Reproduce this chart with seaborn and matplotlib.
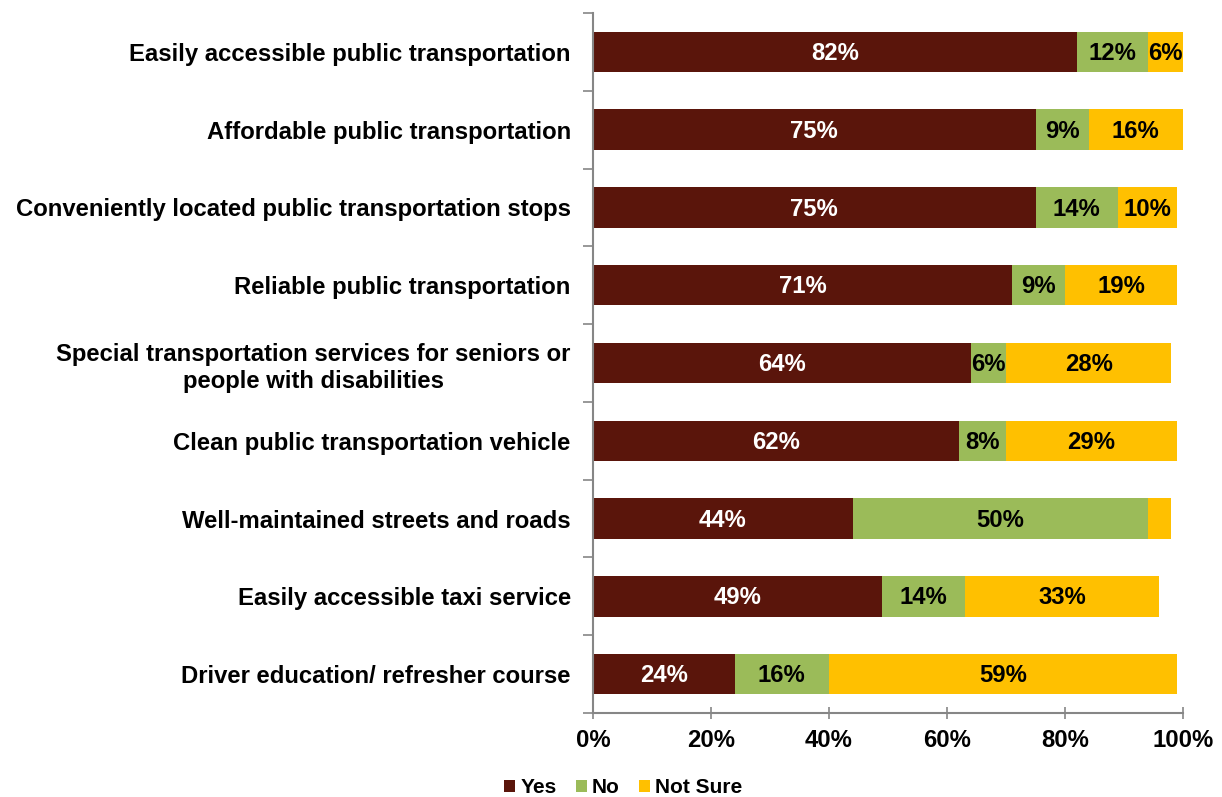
import matplotlib
matplotlib.use("Agg")
import matplotlib.pyplot as plt
from matplotlib.patches import Patch
from matplotlib.ticker import FixedLocator, FuncFormatter
import numpy as np
import pandas as pd
import seaborn as sns

categories = [
    "Easily accessible public transportation",
    "Affordable public transportation",
    "Conveniently located public transportation stops",
    "Reliable public transportation",
    "Special transportation services for seniors or\npeople with disabilities",
    "Clean public transportation vehicle",
    "Well-maintained streets and roads",
    "Easily accessible taxi service",
    "Driver education/ refresher course",
]
yes = [82, 75, 75, 71, 64, 62, 44, 49, 24]
no = [12, 9, 14, 9, 6, 8, 50, 14, 16]
not_sure = [6, 16, 10, 19, 28, 29, 4, 33, 59]
# Segments too narrow to carry a readable label
hide_labels = {("Not Sure", 6)}

series_names = ["Yes", "No", "Not Sure"]
colors = {"Yes": "#5A150B", "No": "#9BBB59", "Not Sure": "#FFC000"}
text_colors = {"Yes": "white", "No": "black", "Not Sure": "black"}

sns.set_theme(style="white")
plt.rcParams["font.family"] = ["Liberation Sans", "DejaVu Sans"]
plt.rcParams["font.weight"] = "bold"
plt.rcParams["text.color"] = "black"
plt.rcParams["xtick.color"] = "black"
plt.rcParams["ytick.color"] = "black"

FS = 17.2

df = pd.DataFrame({"category": categories, "Yes": yes, "No": no, "Not Sure": not_sure})
df["cum_yes"] = df["Yes"]
df["cum_no"] = df["Yes"] + df["No"]
df["cum_ns"] = df["cum_no"] + df["Not Sure"]

fig = plt.figure(figsize=(12.22, 7.97), dpi=100)
ax = fig.add_axes([593 / 1222, 1 - 713 / 797, (1183 - 593) / 1222, (713 - 13) / 797])

# Stacked bars: draw cumulative totals from the outermost segment inward
for name, col in [("Not Sure", "cum_ns"), ("No", "cum_no"), ("Yes", "cum_yes")]:
    sns.barplot(data=df, x=col, y="category", orient="h", color=colors[name],
                width=0.52, saturation=1, ax=ax, linewidth=0)

starts = {"Yes": np.zeros(len(df)), "No": df["cum_yes"].values, "Not Sure": df["cum_no"].values}
for name in series_names:
    vals = df[name].values
    for i, v in enumerate(vals):
        if (name, i) in hide_labels:
            continue
        ax.text(starts[name][i] + v / 2, i + 0.02, f"{v}%", ha="center", va="center",
                color=text_colors[name], fontsize=FS, fontweight="bold")

ax.set_xlim(0, 100)
ax.set_ylim(len(categories) - 0.5, -0.5)
ax.set_xlabel("")
ax.set_ylabel("")

ax.xaxis.set_major_locator(FixedLocator([0, 20, 40, 60, 80, 100]))
ax.xaxis.set_major_formatter(FuncFormatter(lambda v, p: f"{v:.0f}%"))
ax.tick_params(axis="x", which="major", direction="inout", length=9, width=1.2,
               color="#868686", labelcolor="black", labelsize=FS, pad=7, bottom=True)
ax.tick_params(axis="y", which="major", length=0, pad=16, labelsize=FS, labelcolor="black")
ax.yaxis.set_minor_locator(FixedLocator(np.arange(-0.5, len(categories), 1.0)))
ax.tick_params(axis="y", which="minor", direction="out", length=7, width=1.2,
               color="#868686", left=True)
for lab in ax.get_yticklabels():
    lab.set_multialignment("center")
    lab.set_fontweight("bold")
    lab.set_linespacing(1.25)
for lab in ax.get_xticklabels():
    lab.set_fontweight("bold")

for side in ["top", "right"]:
    ax.spines[side].set_visible(False)
for side in ["left", "bottom"]:
    ax.spines[side].set_color("#868686")
    ax.spines[side].set_linewidth(1.5)

handles = [Patch(facecolor=colors[n], edgecolor="none", label=n) for n in series_names]
fig.legend(handles=handles, loc="lower center", bbox_to_anchor=(0.51, -0.024), ncol=3,
           frameon=False, handlelength=0.53, handleheight=0.53, handletextpad=0.25,
           columnspacing=0.9, prop={"size": 15, "weight": "bold"})

fig.savefig("out.png", dpi=100)
